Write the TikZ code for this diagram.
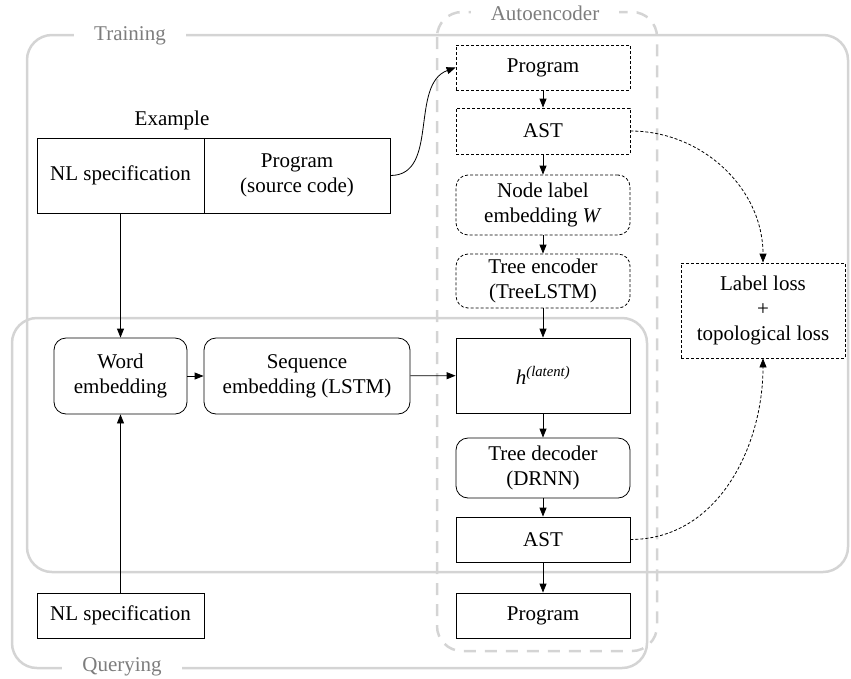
\documentclass[tikz,border=0pt]{standalone}
\usepackage{fontspec}
\setmainfont{Liberation Serif}
\usepackage{xcolor}
\usetikzlibrary{arrows}
\usetikzlibrary{arrows.meta}
\definecolor{framegray}{RGB}{212,212,212}
\definecolor{labelgray}{RGB}{125,125,125}
\tikzset{
    box/.style={draw, line width=0.8pt, minimum width=174pt, align=center, inner sep=2pt},
    dbox/.style={box, dash pattern=on 3pt off 2pt},
    rbox/.style={box, rounded corners=12pt},
    drbox/.style={dbox, rounded corners=12pt},
    frame/.style={draw=framegray, line width=2.5pt, rounded corners=25pt},
    framelabel/.style={fill=white, text=labelgray, inner xsep=20pt, inner ysep=1pt},
    arr/.style={-{Triangle[length=9pt,width=7pt]}, line width=0.8pt},
    darr/.style={arr, dash pattern=on 3pt off 2pt}
}
\begin{document}
\begin{tikzpicture}[x=1pt, y=-1pt, every node/.style={font=\fontsize{21}{25}\selectfont}]
    \useasboundingbox (0,0) rectangle (851,678);

    \draw[frame] (27,35) rectangle (848,572);
    \draw[frame] (12,318) rectangle (647,668);
    \draw[frame, dash pattern=on 12pt off 9pt] (437,12) rectangle (657,651);
    \node[framelabel] (training) at (130,36) {Training};
    \node[framelabel] (querying) at (122,667) {Querying};
    \node[framelabel] (autoenc) at (545,13) {Autoencoder};

    \node (example) at (172,120) {Example};
    \node[box, minimum width=167pt, minimum height=75pt] (exnl) at (120.5,175.5) {NL specification};
    \node[box, minimum width=186pt, minimum height=75pt] (exprog) at (297,175.5) {Program\\(source code)};

    \node[dbox, minimum height=45pt] (aeprog) at (543,67.5) {Program};
    \node[dbox, minimum height=46pt] (aeast) at (543,131) {AST};
    \node[drbox, minimum height=60pt] (labelemb) at (543,205) {Node label\\embedding \textit{W}};
    \node[drbox, minimum height=54pt] (encoder) at (543,281) {Tree encoder\\(TreeLSTM)};
    \node[box, minimum height=75pt] (latent) at (543,375.5) {\textit{h}\textsuperscript{\textit{(latent)}}};
    \node[rbox, minimum height=60pt] (decoder) at (543,468) {Tree decoder\\(DRNN)};
    \node[box, minimum height=45pt] (ast) at (543,539.5) {AST};
    \node[box, minimum height=45pt] (prog) at (543,615.5) {Program};

    \node[dbox, minimum width=164pt, minimum height=95pt] (loss) at (763,310.5) {Label loss\\+\\topological loss};

    \node[rbox, minimum width=133pt, minimum height=76pt] (wordemb) at (120.5,376) {Word\\embedding};
    \node[rbox, minimum width=206pt, minimum height=76pt] (seqemb) at (307,376) {Sequence\\embedding (LSTM)};
    \node[box, minimum width=167pt, minimum height=45pt] (nl) at (120.5,615.5) {NL specification};

    \draw[arr] (exprog.east) to[out=0, in=200] (aeprog.west);
    \draw[arr] (aeprog) -- (aeast);
    \draw[arr] (aeast) -- (labelemb);
    \draw[arr] (labelemb) -- (encoder);
    \draw[arr] (encoder) -- (latent);
    \draw[arr] (latent) -- (decoder);
    \draw[arr] (decoder) -- (ast);
    \draw[arr] (ast) -- (prog);

    \draw[arr] (exnl) -- (wordemb);
    \draw[arr] (nl) -- (wordemb);
    \draw[arr] (wordemb) -- (seqemb);
    \draw[arr] (seqemb) -- (latent);

    \draw[darr] (aeast.east) to[out=0, in=90] (loss.north);
    \draw[darr] (ast.east) to[out=0, in=-90] (loss.south);
\end{tikzpicture}
\end{document}
